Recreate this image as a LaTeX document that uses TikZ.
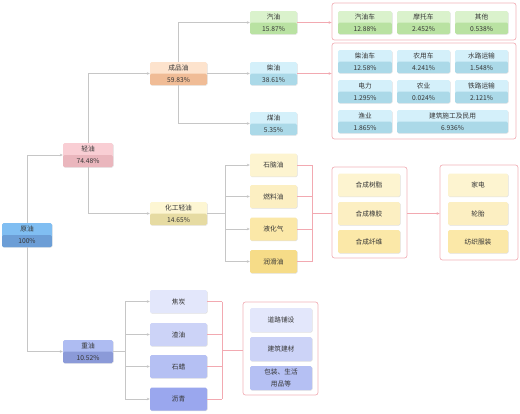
\documentclass[tikz,border=0pt]{standalone}
\usepackage{fontspec}
\setmainfont{Noto Sans CJK SC}
\usetikzlibrary{shadows,arrows.meta}
\definecolor{txt}{HTML}{363636}
\definecolor{gline}{HTML}{C6C6C6}
\definecolor{pline}{HTML}{F2A9B1}
\definecolor{grpline}{HTML}{F2B3BA}
\definecolor{yuanT}{HTML}{80BEF2}
\definecolor{yuanB}{HTML}{6C9ED6}
\definecolor{qingT}{HTML}{F9CED4}
\definecolor{qingB}{HTML}{EAB6BD}
\definecolor{cpyT}{HTML}{FDE3CD}
\definecolor{cpyB}{HTML}{F0BC96}
\definecolor{hgT}{HTML}{FDF6D3}
\definecolor{hgB}{HTML}{E6DBA2}
\definecolor{grT}{HTML}{DAF2CC}
\definecolor{grB}{HTML}{B9E2A2}
\definecolor{cyT}{HTML}{D4F0FA}
\definecolor{cyB}{HTML}{ABD9E8}
\definecolor{zhT}{HTML}{AEBCF2}
\definecolor{zhB}{HTML}{8B9AD8}
\definecolor{yA}{HTML}{FDF4D0}
\definecolor{yB}{HTML}{FCEFC2}
\definecolor{yC}{HTML}{FBE8A8}
\definecolor{yD}{HTML}{F6DC88}
\definecolor{bA}{HTML}{E3E7FB}
\definecolor{bB}{HTML}{CCD3F7}
\definecolor{bC}{HTML}{B5C0F3}
\definecolor{bD}{HTML}{9AA7EE}
\tikzset{
  base/.style={rectangle, rounded corners=1.5pt, inner sep=0pt, align=center,
    text=txt, font=\fontsize{6.7}{12}\selectfont,
    drop shadow={shadow xshift=0.5pt, shadow yshift=-0.7pt, opacity=0.25, fill=black!50}},
  two/.style 2 args={base, fill=#1,
    path picture={\fill[#2] (path picture bounding box.west) rectangle (path picture bounding box.south east);}},
  one/.style={base, fill=#1},
  sz/.style 2 args={minimum width=#1pt, minimum height=#2pt},
  grp/.style={draw=grpline, line width=0.7pt, rounded corners=2.5pt, fill=white, inner sep=0pt},
  gc/.style={draw=gline, line width=0.6pt},
  pc/.style={draw=pline, line width=0.6pt},
  arr/.style={-{Stealth[length=3pt,width=2.6pt]}},
}
\begin{document}
\begin{tikzpicture}[x=1pt,y=-1pt]
\useasboundingbox[fill=white] (0,0) rectangle (520,413);
% level 0-1
\node[two={yuanT}{yuanB}, sz={50}{24}] (yuan) at (27,235) {原油\\100\%};
\node[two={qingT}{qingB}, sz={50}{24}] (qing) at (88,155) {轻油\\74.48\%};
\node[two={zhT}{zhB}, sz={50}{23}] (zhong) at (88,351.5) {重油\\10.52\%};
% level 2
\node[two={cpyT}{cpyB}, sz={57}{23}] (cpy) at (178.5,73.5) {成品油\\59.83\%};
\node[two={hgT}{hgB}, sz={57}{23}] (hg) at (178.5,213.5) {化工轻油\\14.65\%};
% level 3 products
\node[two={grT}{grB}, sz={47}{23}] (qy) at (273.5,22.5) {汽油\\15.87\%};
\node[two={cyT}{cyB}, sz={47}{23}] (cy) at (273.5,73.5) {柴油\\38.61\%};
\node[two={cyT}{cyB}, sz={47}{23}] (my) at (273.5,123.5) {煤油\\5.35\%};
% groups 1 and 2
\node[grp, sz={184}{37}] (g1) at (424,21.5) {};
\node[two={grT}{grB}, sz={54}{23}] (qyc) at (365,22.5) {汽油车\\12.88\%};
\node[two={grT}{grB}, sz={53}{23}] (mtc) at (423.5,22.5) {摩托车\\2.452\%};
\node[two={grT}{grB}, sz={53}{23}] (qt) at (481.5,22.5) {其他\\0.538\%};
\node[grp, sz={184}{96}] (g2) at (424,91) {};
\node[two={cyT}{cyB}, sz={54}{23}] (cyc) at (365,61.5) {柴油车\\12.58\%};
\node[two={cyT}{cyB}, sz={53}{23}] (nyc) at (423.5,61.5) {农用车\\4.241\%};
\node[two={cyT}{cyB}, sz={53}{23}] (sl) at (481.5,61.5) {水路运输\\1.548\%};
\node[two={cyT}{cyB}, sz={54}{23}] (dl) at (365,91.5) {电力\\1.295\%};
\node[two={cyT}{cyB}, sz={53}{23}] (ny) at (423.5,91.5) {农业\\0.024\%};
\node[two={cyT}{cyB}, sz={53}{23}] (tl) at (481.5,91.5) {铁路运输\\2.121\%};
\node[two={cyT}{cyB}, sz={54}{23}] (yy) at (365,121.5) {渔业\\1.865\%};
\node[two={cyT}{cyB}, sz={111}{23}] (jz) at (452.5,121.5) {建筑施工及民用\\6.936\%};
% chemical light oil
\node[one=yA, sz={47}{23}] (snp) at (273.5,165) {石脑油};
\node[one=yB, sz={47}{23}] (rly) at (273.5,196.5) {燃料油};
\node[one=yC, sz={47}{23}] (yhq) at (273.5,229) {液化气};
\node[one=yD, sz={47}{23}] (rhy) at (273.5,261.5) {润滑油};
\node[grp, sz={75}{91}] (g3) at (369.5,212.5) {};
\node[one=yA, sz={62}{23}] (hcsz) at (369,185) {合成树脂};
\node[one=yB, sz={62}{23}] (hcxj) at (369,213.5) {合成橡胶};
\node[one=yC, sz={62}{23}] (hcxw) at (369,241.5) {合成纤维};
\node[grp, sz={78}{95}] (g4) at (479,212.5) {};
\node[one=yA, sz={60}{23}] (jd) at (478,185) {家电};
\node[one=yB, sz={60}{23}] (lt) at (478,213.5) {轮胎};
\node[one=yC, sz={60}{23}] (fz) at (478,241.5) {纺织服装};
% heavy oil
\node[one=bA, sz={57}{23}] (jt) at (178.5,301.5) {焦炭};
\node[one=bB, sz={57}{23}] (zy) at (178.5,334.5) {渣油};
\node[one=bC, sz={57}{23}] (sla) at (178.5,366.5) {石蜡};
\node[one=bD, sz={57}{23}] (lq) at (178.5,399) {沥青};
\node[grp, sz={75}{93}] (g5) at (280.5,348.5) {};
\node[one=bA, sz={62}{24}] (dlps) at (281,320) {道路铺设};
\node[one=bB, sz={62}{24}] (jzjc) at (281,349) {建筑建材};
\node[one=bC, sz={62}{24}] (bz) at (281,378) {包装、生活\\用品等};
% connectors: main tree
\draw[gc,arr] (yuan.north) |- (qing.west);
\draw[gc,arr] (yuan.south) |- (zhong.west);
\draw[gc,arr] (qing.north) |- (cpy.west);
\draw[gc,arr] (qing.south) |- (hg.west);
\draw[gc,arr] (cpy.north) |- (qy.west);
\draw[gc,arr] (cpy.east) -- (cy.west);
\draw[gc,arr] (cpy.south) |- (my.west);
\draw[pc,arr] (qy.east) -- (qy.east -| g1.west);
\draw[pc,arr] (cy.east) -- (cy.east -| g2.west);
% chemical light oil branch
\coordinate (hgj) at (225,213.5);
\draw[gc] (hg.east) -- (hgj);
\draw[gc] (hgj |- snp.west) -- (hgj |- rhy.west);
\foreach \n in {snp,rly,yhq,rhy} \draw[gc,arr] (hgj |- \n.west) -- (\n.west);
\coordinate (yj) at (312,213.5);
\foreach \n in {snp,rly,yhq,rhy} \draw[pc] (\n.east) -- (yj |- \n.east);
\draw[pc] (yj |- snp.east) -- (yj |- rhy.east);
\draw[pc] (yj) -- (yj -| g3.west);
\draw[pc,arr] (g3.east |- yj) -- (g4.west |- yj);
% heavy oil branch
\coordinate (zj) at (125,351.5);
\draw[gc] (zhong.east) -- (zj);
\draw[gc] (zj |- jt.west) -- (zj |- lq.west);
\foreach \n in {jt,zy,sla,lq} \draw[gc,arr] (zj |- \n.west) -- (\n.west);
\coordinate (bj) at (222,350);
\foreach \n in {jt,zy,sla,lq} \draw[pc] (\n.east) -- (bj |- \n.east);
\draw[pc] (bj |- jt.east) -- (bj |- lq.east);
\draw[pc] (bj) -- (bj -| g5.west);
\end{tikzpicture}
\end{document}
